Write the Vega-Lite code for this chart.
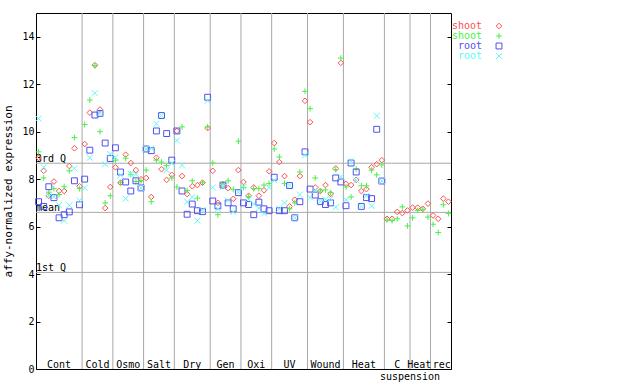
{
  "$schema": "https://vega.github.io/schema/vega-lite/v6.json",
  "width": 415,
  "height": 356,
  "autosize": {"type": "none"},
  "padding": {"left": 36, "top": 13, "right": 189, "bottom": 15},
  "background": "white",
  "config": {
    "view": {"stroke": "black", "strokeWidth": 1},
    "font": "DejaVu Sans Mono",
    "axis": {"labelFont": "DejaVu Sans Mono", "titleFont": "DejaVu Sans Mono", "grid": false, "domain": false}
  },
  "datasets": {
    "pts": [
      {"i":1,"s":"shoot_1","v":8.9},{"i":1,"s":"shoot_2","v":9.15},{"i":1,"s":"root_1","v":7.05},{"i":1,"s":"root_2","v":10.55},
      {"i":2,"s":"shoot_1","v":8.35},{"i":2,"s":"shoot_2","v":8.05},{"i":2,"s":"root_1","v":6.85},{"i":2,"s":"root_2","v":8.5},
      {"i":3,"s":"shoot_1","v":7.3},{"i":3,"s":"shoot_2","v":7.45},{"i":3,"s":"root_1","v":7.68},{"i":3,"s":"root_2","v":7.3},
      {"i":4,"s":"shoot_1","v":7.9},{"i":4,"s":"shoot_2","v":7.6},{"i":4,"s":"root_1","v":7.22},{"i":4,"s":"root_2","v":7.25},
      {"i":5,"s":"shoot_1","v":7.5},{"i":5,"s":"shoot_2","v":7.35},{"i":5,"s":"root_1","v":6.37},{"i":5,"s":"root_2","v":6.9},
      {"i":6,"s":"shoot_1","v":7.5},{"i":6,"s":"shoot_2","v":7.68},{"i":6,"s":"root_1","v":6.5},{"i":6,"s":"root_2","v":6.25},
      {"i":7,"s":"shoot_1","v":8.55},{"i":7,"s":"shoot_2","v":8.35},{"i":7,"s":"root_1","v":6.62},{"i":7,"s":"root_2","v":6.9},
      {"i":8,"s":"shoot_1","v":9.3},{"i":8,"s":"shoot_2","v":9.75},{"i":8,"s":"root_1","v":7.93},{"i":8,"s":"root_2","v":8.45},
      {"i":9,"s":"shoot_1","v":7.7},{"i":9,"s":"shoot_2","v":7.6},{"i":9,"s":"root_1","v":6.92},{"i":9,"s":"root_2","v":7.1},
      {"i":10,"s":"shoot_1","v":9.48},{"i":10,"s":"shoot_2","v":10.3},{"i":10,"s":"root_1","v":8.0},{"i":10,"s":"root_2","v":7.63},
      {"i":11,"s":"shoot_1","v":10.8},{"i":11,"s":"shoot_2","v":11.33},{"i":11,"s":"root_1","v":9.22},{"i":11,"s":"root_2","v":8.9},
      {"i":12,"s":"shoot_1","v":12.8},{"i":12,"s":"shoot_2","v":12.78},{"i":12,"s":"root_1","v":10.7},{"i":12,"s":"root_2","v":11.62},
      {"i":13,"s":"shoot_1","v":10.93},{"i":13,"s":"shoot_2","v":10.0},{"i":13,"s":"root_1","v":10.77},{"i":13,"s":"root_2","v":10.77},
      {"i":14,"s":"shoot_1","v":6.78},{"i":14,"s":"shoot_2","v":7.0},{"i":14,"s":"root_1","v":9.52},{"i":14,"s":"root_2","v":8.63},
      {"i":15,"s":"shoot_1","v":7.67},{"i":15,"s":"shoot_2","v":7.3},{"i":15,"s":"root_1","v":8.87},{"i":15,"s":"root_2","v":9.05},
      {"i":16,"s":"shoot_1","v":8.5},{"i":16,"s":"shoot_2","v":8.8},{"i":16,"s":"root_1","v":9.32},{"i":16,"s":"root_2","v":8.92},
      {"i":17,"s":"shoot_1","v":7.85},{"i":17,"s":"shoot_2","v":7.85},{"i":17,"s":"root_1","v":8.3},{"i":17,"s":"root_2","v":8.17},
      {"i":18,"s":"shoot_1","v":9.03},{"i":18,"s":"shoot_2","v":8.88},{"i":18,"s":"root_1","v":7.88},{"i":18,"s":"root_2","v":7.18},
      {"i":19,"s":"shoot_1","v":8.68},{"i":19,"s":"shoot_2","v":8.2},{"i":19,"s":"root_1","v":7.5},{"i":19,"s":"root_2","v":8.22},
      {"i":20,"s":"shoot_1","v":8.38},{"i":20,"s":"shoot_2","v":7.9},{"i":20,"s":"root_1","v":7.93},{"i":20,"s":"root_2","v":8.2},
      {"i":21,"s":"shoot_1","v":8.0},{"i":21,"s":"shoot_2","v":7.93},{"i":21,"s":"root_1","v":7.63},{"i":21,"s":"root_2","v":7.63},
      {"i":22,"s":"shoot_1","v":8.05},{"i":22,"s":"shoot_2","v":8.38},{"i":22,"s":"root_1","v":9.27},{"i":22,"s":"root_2","v":9.27},
      {"i":23,"s":"shoot_1","v":7.25},{"i":23,"s":"shoot_2","v":7.05},{"i":23,"s":"root_1","v":9.2},{"i":23,"s":"root_2","v":9.3},
      {"i":24,"s":"shoot_1","v":8.9},{"i":24,"s":"shoot_2","v":8.8},{"i":24,"s":"root_1","v":10.03},{"i":24,"s":"root_2","v":10.33},
      {"i":25,"s":"shoot_1","v":8.42},{"i":25,"s":"shoot_2","v":8.72},{"i":25,"s":"root_1","v":10.68},{"i":25,"s":"root_2","v":10.68},
      {"i":26,"s":"shoot_1","v":7.97},{"i":26,"s":"shoot_2","v":8.57},{"i":26,"s":"root_1","v":9.92},{"i":26,"s":"root_2","v":8.38},
      {"i":27,"s":"shoot_1","v":8.18},{"i":27,"s":"shoot_2","v":8.05},{"i":27,"s":"root_1","v":8.8},{"i":27,"s":"root_2","v":8.67},
      {"i":28,"s":"shoot_1","v":10.03},{"i":28,"s":"shoot_2","v":7.67},{"i":28,"s":"root_1","v":10.03},{"i":28,"s":"root_2","v":9.63},
      {"i":29,"s":"shoot_1","v":8.13},{"i":29,"s":"shoot_2","v":10.2},{"i":29,"s":"root_1","v":7.5},{"i":29,"s":"root_2","v":8.58},
      {"i":30,"s":"shoot_1","v":7.37},{"i":30,"s":"shoot_2","v":7.52},{"i":30,"s":"root_1","v":6.52},{"i":30,"s":"root_2","v":7.05},
      {"i":31,"s":"shoot_1","v":7.7},{"i":31,"s":"shoot_2","v":7.93},{"i":31,"s":"root_1","v":6.95},{"i":31,"s":"root_2","v":7.25},
      {"i":32,"s":"shoot_1","v":7.75},{"i":32,"s":"shoot_2","v":7.2},{"i":32,"s":"root_1","v":6.67},{"i":32,"s":"root_2","v":6.25},
      {"i":33,"s":"shoot_1","v":7.85},{"i":33,"s":"shoot_2","v":7.85},{"i":33,"s":"root_1","v":6.63},{"i":33,"s":"root_2","v":6.7},
      {"i":34,"s":"shoot_1","v":10.15},{"i":34,"s":"shoot_2","v":10.2},{"i":34,"s":"root_1","v":11.45},{"i":34,"s":"root_2","v":11.3},
      {"i":35,"s":"shoot_1","v":8.35},{"i":35,"s":"shoot_2","v":8.68},{"i":35,"s":"root_1","v":7.08},{"i":35,"s":"root_2","v":7.65},
      {"i":36,"s":"shoot_1","v":7.0},{"i":36,"s":"shoot_2","v":6.5},{"i":36,"s":"root_1","v":6.87},{"i":36,"s":"root_2","v":6.75},
      {"i":37,"s":"shoot_1","v":7.73},{"i":37,"s":"shoot_2","v":7.8},{"i":37,"s":"root_1","v":7.75},{"i":37,"s":"root_2","v":7.67},
      {"i":38,"s":"shoot_1","v":7.62},{"i":38,"s":"shoot_2","v":7.93},{"i":38,"s":"root_1","v":7.0},{"i":38,"s":"root_2","v":7.1},
      {"i":39,"s":"shoot_1","v":7.17},{"i":39,"s":"shoot_2","v":7.57},{"i":39,"s":"root_1","v":6.75},{"i":39,"s":"root_2","v":6.62},
      {"i":40,"s":"shoot_1","v":8.38},{"i":40,"s":"shoot_2","v":9.6},{"i":40,"s":"root_1","v":7.43},{"i":40,"s":"root_2","v":7.45},
      {"i":41,"s":"shoot_1","v":7.88},{"i":41,"s":"shoot_2","v":7.65},{"i":41,"s":"root_1","v":7.0},{"i":41,"s":"root_2","v":7.67},
      {"i":42,"s":"shoot_1","v":7.3},{"i":42,"s":"shoot_2","v":7.27},{"i":42,"s":"root_1","v":6.93},{"i":42,"s":"root_2","v":7.15},
      {"i":43,"s":"shoot_1","v":7.65},{"i":43,"s":"shoot_2","v":7.6},{"i":43,"s":"root_1","v":6.5},{"i":43,"s":"root_2","v":6.95},
      {"i":44,"s":"shoot_1","v":7.3},{"i":44,"s":"shoot_2","v":7.6},{"i":44,"s":"root_1","v":7.03},{"i":44,"s":"root_2","v":6.78},
      {"i":45,"s":"shoot_1","v":7.53},{"i":45,"s":"shoot_2","v":7.75},{"i":45,"s":"root_1","v":6.75},{"i":45,"s":"root_2","v":6.55},
      {"i":46,"s":"shoot_1","v":8.33},{"i":46,"s":"shoot_2","v":7.82},{"i":46,"s":"root_1","v":6.67},{"i":46,"s":"root_2","v":7.65},
      {"i":47,"s":"shoot_1","v":9.52},{"i":47,"s":"shoot_2","v":9.27},{"i":47,"s":"root_1","v":8.08},{"i":47,"s":"root_2","v":7.95},
      {"i":48,"s":"shoot_1","v":8.72},{"i":48,"s":"shoot_2","v":8.93},{"i":48,"s":"root_1","v":6.67},{"i":48,"s":"root_2","v":6.75},
      {"i":49,"s":"shoot_1","v":8.13},{"i":49,"s":"shoot_2","v":7.82},{"i":49,"s":"root_1","v":6.67},{"i":49,"s":"root_2","v":7.0},
      {"i":50,"s":"shoot_1","v":6.85},{"i":50,"s":"shoot_2","v":6.75},{"i":50,"s":"root_1","v":7.73},{"i":50,"s":"root_2","v":7.73},
      {"i":51,"s":"shoot_1","v":7.13},{"i":51,"s":"shoot_2","v":7.0},{"i":51,"s":"root_1","v":6.37},{"i":51,"s":"root_2","v":6.37},
      {"i":52,"s":"shoot_1","v":8.13},{"i":52,"s":"shoot_2","v":8.3},{"i":52,"s":"root_1","v":7.05},{"i":52,"s":"root_2","v":7.35},
      {"i":53,"s":"shoot_1","v":11.3},{"i":53,"s":"shoot_2","v":11.7},{"i":53,"s":"root_1","v":9.15},{"i":53,"s":"root_2","v":9.0},
      {"i":54,"s":"shoot_1","v":10.4},{"i":54,"s":"shoot_2","v":10.97},{"i":54,"s":"root_1","v":7.58},{"i":54,"s":"root_2","v":7.23},
      {"i":55,"s":"shoot_1","v":7.65},{"i":55,"s":"shoot_2","v":8.05},{"i":55,"s":"root_1","v":7.33},{"i":55,"s":"root_2","v":7.55},
      {"i":56,"s":"shoot_1","v":7.5},{"i":56,"s":"shoot_2","v":7.5},{"i":56,"s":"root_1","v":7.05},{"i":56,"s":"root_2","v":7.05},
      {"i":57,"s":"shoot_1","v":7.75},{"i":57,"s":"shoot_2","v":7.55},{"i":57,"s":"root_1","v":6.93},{"i":57,"s":"root_2","v":7.15},
      {"i":58,"s":"shoot_1","v":7.38},{"i":58,"s":"shoot_2","v":7.43},{"i":58,"s":"root_1","v":7.0},{"i":58,"s":"root_2","v":7.18},
      {"i":59,"s":"shoot_1","v":8.45},{"i":59,"s":"shoot_2","v":8.4},{"i":59,"s":"root_1","v":8.05},{"i":59,"s":"root_2","v":6.82},
      {"i":60,"s":"shoot_1","v":12.9},{"i":60,"s":"shoot_2","v":13.1},{"i":60,"s":"root_1","v":7.88},{"i":60,"s":"root_2","v":8.1},
      {"i":61,"s":"shoot_1","v":7.8},{"i":61,"s":"shoot_2","v":7.67},{"i":61,"s":"root_1","v":6.88},{"i":61,"s":"root_2","v":7.13},
      {"i":62,"s":"shoot_1","v":7.75},{"i":62,"s":"shoot_2","v":7.25},{"i":62,"s":"root_1","v":8.68},{"i":62,"s":"root_2","v":8.75},
      {"i":63,"s":"shoot_1","v":7.97},{"i":63,"s":"shoot_2","v":8.43},{"i":63,"s":"root_1","v":8.3},{"i":63,"s":"root_2","v":7.95},
      {"i":64,"s":"shoot_1","v":7.5},{"i":64,"s":"shoot_2","v":7.72},{"i":64,"s":"root_1","v":6.85},{"i":64,"s":"root_2","v":6.85},
      {"i":65,"s":"shoot_1","v":7.58},{"i":65,"s":"shoot_2","v":7.72},{"i":65,"s":"root_1","v":7.22},{"i":65,"s":"root_2","v":7.3},
      {"i":66,"s":"shoot_1","v":8.5},{"i":66,"s":"shoot_2","v":8.38},{"i":66,"s":"root_1","v":7.18},{"i":66,"s":"root_2","v":6.87},
      {"i":67,"s":"shoot_1","v":8.63},{"i":67,"s":"shoot_2","v":8.18},{"i":67,"s":"root_1","v":10.1},{"i":67,"s":"root_2","v":10.67},
      {"i":68,"s":"shoot_1","v":8.8},{"i":68,"s":"shoot_2","v":8.6},{"i":68,"s":"root_1","v":7.92},{"i":68,"s":"root_2","v":7.92},
      {"i":69,"s":"shoot_1","v":6.33},{"i":69,"s":"shoot_2","v":6.28},
      {"i":70,"s":"shoot_1","v":6.33},{"i":70,"s":"shoot_2","v":6.25},
      {"i":71,"s":"shoot_1","v":6.62},{"i":71,"s":"shoot_2","v":6.33},
      {"i":72,"s":"shoot_1","v":6.57},{"i":72,"s":"shoot_2","v":6.83},
      {"i":73,"s":"shoot_1","v":6.68},{"i":73,"s":"shoot_2","v":6.03},
      {"i":74,"s":"shoot_1","v":6.8},{"i":74,"s":"shoot_2","v":6.37},
      {"i":75,"s":"shoot_1","v":6.8},{"i":75,"s":"shoot_2","v":6.68},
      {"i":76,"s":"shoot_1","v":6.75},{"i":76,"s":"shoot_2","v":6.73},
      {"i":77,"s":"shoot_1","v":6.97},{"i":77,"s":"shoot_2","v":6.4},
      {"i":78,"s":"shoot_1","v":6.47},{"i":78,"s":"shoot_2","v":6.1},
      {"i":79,"s":"shoot_1","v":6.33},{"i":79,"s":"shoot_2","v":5.75},
      {"i":80,"s":"shoot_1","v":7.18},{"i":80,"s":"shoot_2","v":6.92},
      {"i":81,"s":"shoot_1","v":7.05},{"i":81,"s":"shoot_2","v":6.55}
    ],
    "seps": [{"b":9.5},{"b":15.5},{"b":21.5},{"b":27.5},{"b":34.5},{"b":40.5},{"b":46.5},{"b":53.5},{"b":60.5},{"b":68.5},{"b":73.5},{"b":77.5}],
    "qs": [{"q":"3rd Q","v":8.67},{"q":"mean","v":6.6},{"q":"1st Q","v":4.07}],
    "groups": [{"g":"Cont","c":5},{"g":"Cold","c":12.5},{"g":"Osmo","c":18.5},{"g":"Salt","c":24.5},{"g":"Dry","c":31},{"g":"Gen","c":37.5},{"g":"Oxi","c":43.5},{"g":"UV","c":50},{"g":"Wound","c":57},{"g":"Heat","c":64.5},{"g":"C","c":71},{"g":"Heat","c":75.3},{"g":"rec","c":79.7}],
    "sub": [{"g":"suspension","c":73.5}]
  },
  "layer": [
    {
      "data": {"name": "seps"},
      "mark": {"type": "rule", "color": "#a8a8a8", "strokeWidth": 1},
      "encoding": {"x": {"field": "b", "type": "quantitative", "scale": {"domain": [0.5, 81.5], "nice": false, "zero": false}, "axis": null}}
    },
    {
      "data": {"name": "qs"},
      "mark": {"type": "rule", "color": "#a8a8a8", "strokeWidth": 1},
      "encoding": {"y": {"field": "v", "type": "quantitative", "scale": {"domain": [0, 15], "nice": false},
        "axis": {"orient": "right", "values": [0,2,4,6,8,10,12,14], "labels": false, "title": null, "tickSize": -4, "tickColor": "black"}}}
    },
    {
      "data": {"name": "qs"},
      "mark": {"type": "text", "align": "left", "baseline": "bottom", "fontSize": 10, "color": "black", "dy": 1},
      "encoding": {
        "x": {"datum": 0.5, "type": "quantitative"},
        "y": {"field": "v", "type": "quantitative", "axis": null},
        "text": {"field": "q"}
      }
    },
    {
      "data": {"name": "groups"},
      "mark": {"type": "text", "align": "center", "baseline": "middle", "fontSize": 10, "color": "black"},
      "encoding": {
        "x": {"field": "c", "type": "quantitative"},
        "y": {"datum": 0.18, "type": "quantitative", "axis": null},
        "text": {"field": "g"}
      }
    },
    {
      "data": {"name": "sub"},
      "mark": {"type": "text", "align": "center", "baseline": "middle", "fontSize": 10, "color": "black", "clip": false},
      "encoding": {
        "x": {"field": "c", "type": "quantitative"},
        "y": {"datum": -0.32, "type": "quantitative", "axis": null},
        "text": {"field": "g"}
      }
    },
    {
      "data": {"name": "pts"},
      "mark": {"type": "point", "filled": false, "strokeWidth": 1, "opacity": 1},
      "encoding": {
        "x": {"field": "i", "type": "quantitative"},
        "y": {"field": "v", "type": "quantitative",
          "axis": {"orient": "left", "values": [0,2,4,6,8,10,12,14], "title": "affy-normalized expression", "titleFontSize": 11, "titleFontWeight": "normal", "titleColor": "black", "labelFontSize": 10, "labelColor": "black", "tickSize": -4, "tickColor": "black", "labelPadding": 6, "titlePadding": 8}},
        "color": {"field": "s", "type": "nominal",
          "scale": {"domain": ["shoot_1","shoot_2","root_1","root_2"], "range": ["#ff5050","#48f048","#5050f0","#60f8f8"]},
          "legend": {"orient": "none", "legendX": 458, "legendY": 8, "title": null, "padding": 0, "labelAlign": "right", "labelOffset": -22, "labelFontSize": 10, "labelFont": "DejaVu Sans Mono", "symbolSize": 30, "symbolStrokeWidth": 1, "rowPadding": -1,
            "labelColor": {"expr": "scale('color', datum.value)"},
            "labelExpr": "split(datum.label, '_')[0]"}},
        "shape": {"field": "s", "type": "nominal",
          "scale": {"domain": ["shoot_1","shoot_2","root_1","root_2"], "range": ["diamond", "M-1,0H1M0,-1V1", "square", "M-1,-1L1,1M-1,1L1,-1"]}},
        "size": {"field": "s", "type": "nominal", "legend": null,
          "scale": {"domain": ["shoot_1","shoot_2","root_1","root_2"], "range": [32, 36, 25, 25]}}
      }
    }
  ],
  "resolve": {"axis": {"y": "independent"}}
}
